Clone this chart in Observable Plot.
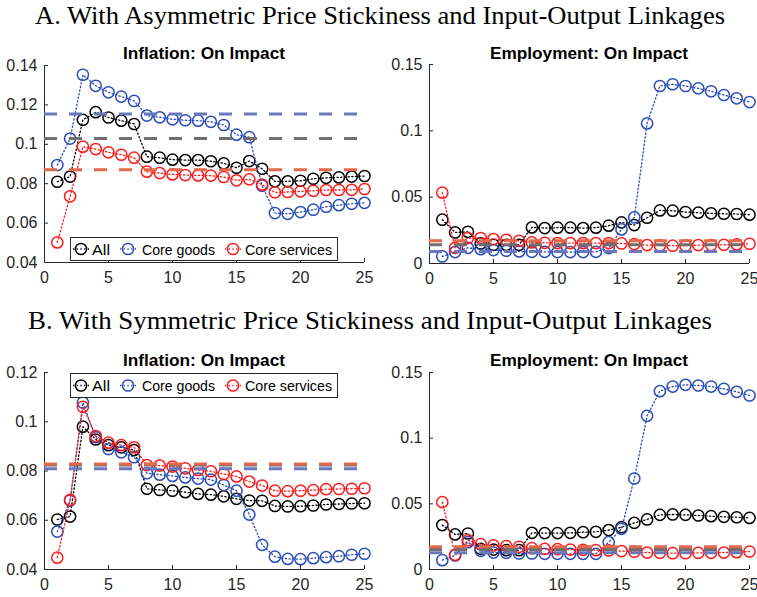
<!DOCTYPE html>
<html><head><meta charset="utf-8">
<script src="https://cdn.jsdelivr.net/npm/d3@7"></script>
<script src="https://cdn.jsdelivr.net/npm/@observablehq/plot@0.6"></script>
<style>
body{margin:0;background:#fff;}
#root{position:relative;width:757px;height:597px;background:#fff;overflow:hidden;}
.panel{position:absolute;}
#overlay{position:absolute;left:0;top:0;}
</style></head><body><div id="root"></div>
<script>
const periods = [1,2,3,4,5,6,7,8,9,10,11,12,13,14,15,16,17,18,19,20,21,22,23,24,25];
const seriesNames = ["All", "Core goods", "Core services"];
const xTicks = [0,5,10,15,20,25];
const infATicks = [0.04,0.06,0.08,0.1,0.12,0.14];
const infBTicks = [0.04,0.06,0.08,0.1,0.12];
const empTicks = [0,0.05,0.1,0.15];

// Panel A: asymmetric stickiness
const aInfAll   = [0.0810,0.0836,0.1124,0.1163,0.1136,0.1120,0.1103,0.0937,0.0932,0.0922,0.0920,0.0920,0.0914,0.0903,0.0881,0.0915,0.0876,0.0812,0.0812,0.0815,0.0825,0.0830,0.0832,0.0836,0.0839];
const aInfGoods = [0.0895,0.1029,0.1353,0.1297,0.1264,0.1242,0.1220,0.1146,0.1137,0.1127,0.1122,0.1120,0.1114,0.1098,0.1049,0.1036,0.0790,0.0651,0.0647,0.0656,0.0668,0.0683,0.0691,0.0698,0.0703];
const aInfServ  = [0.0502,0.0736,0.0988,0.0976,0.0959,0.0947,0.0932,0.0861,0.0854,0.0847,0.0844,0.0842,0.0841,0.0834,0.0817,0.0822,0.0795,0.0756,0.0758,0.0761,0.0764,0.0768,0.0768,0.0769,0.0773];
const aInfMeans = [0.1030,0.1154,0.0871];

const aEmpAll   = [0.0330,0.0234,0.0239,0.0151,0.0141,0.0141,0.0141,0.0272,0.0267,0.0270,0.0270,0.0267,0.0270,0.0285,0.0310,0.0290,0.0345,0.0400,0.0398,0.0388,0.0383,0.0378,0.0375,0.0373,0.0368];
const aEmpGoods = [0.0053,0.0086,0.0118,0.0108,0.0101,0.0096,0.0091,0.0088,0.0088,0.0086,0.0086,0.0086,0.0088,0.0116,0.0257,0.0348,0.1056,0.1338,0.1351,0.1338,0.1320,0.1298,0.1270,0.1245,0.1217];
const aEmpServ  = [0.0534,0.0118,0.0192,0.0192,0.0184,0.0179,0.0171,0.0159,0.0156,0.0154,0.0154,0.0154,0.0154,0.0154,0.0151,0.0146,0.0139,0.0136,0.0134,0.0134,0.0139,0.0139,0.0141,0.0144,0.0149];
const aEmpMeans = [0.0141,0.0091,0.0171];

// Panel B: symmetric stickiness
const bInfAll   = [0.0603,0.0615,0.0980,0.0928,0.0905,0.0896,0.0885,0.0728,0.0723,0.0720,0.0714,0.0707,0.0704,0.0697,0.0687,0.0680,0.0679,0.0658,0.0656,0.0657,0.0660,0.0664,0.0666,0.0668,0.0669];
const bInfGoods = [0.0554,0.0680,0.1078,0.0937,0.0889,0.0876,0.0856,0.0791,0.0785,0.0780,0.0774,0.0769,0.0765,0.0743,0.0720,0.0623,0.0500,0.0452,0.0443,0.0442,0.0446,0.0450,0.0454,0.0460,0.0464];
const bInfServ  = [0.0448,0.0683,0.1061,0.0942,0.0915,0.0905,0.0896,0.0824,0.0822,0.0818,0.0811,0.0804,0.0799,0.0788,0.0778,0.0757,0.0741,0.0720,0.0718,0.0720,0.0722,0.0726,0.0727,0.0728,0.0730];
const bInfMeans = [0.0824,0.0809,0.0828];

const bEmpAll   = [0.0338,0.0267,0.0274,0.0157,0.0152,0.0147,0.0147,0.0279,0.0277,0.0277,0.0279,0.0284,0.0287,0.0300,0.0322,0.0355,0.0381,0.0416,0.0419,0.0416,0.0411,0.0406,0.0401,0.0398,0.0393];
const bEmpGoods = [0.0071,0.0107,0.0208,0.0142,0.0129,0.0127,0.0122,0.0122,0.0119,0.0119,0.0119,0.0119,0.0119,0.0208,0.0310,0.0693,0.1170,0.1358,0.1393,0.1406,0.1401,0.1393,0.1376,0.1353,0.1325];
const bEmpServ  = [0.0513,0.0112,0.0223,0.0193,0.0183,0.0178,0.0173,0.0162,0.0157,0.0155,0.0152,0.0150,0.0147,0.0145,0.0140,0.0135,0.0129,0.0127,0.0124,0.0124,0.0127,0.0127,0.0129,0.0132,0.0137];
const bEmpMeans = [0.0152,0.0127,0.0173];

const lineColors = ["#000000", "#2a4db8", "#ff1a1a"];
const meanColors = ["#6f6f6f", "#6a78bb", "#e3684c"];
const axisColor = "#262626";

function makePanel({left, top, width, height, mt, mb, ml, mr, yDomain, yTicks, series, means}) {
  const rows = [];
  series.forEach((vals, s) => vals.forEach((v, i) => rows.push({t: periods[i], v, s: seriesNames[s]})));
  const meanRows = means.map((m, s) => ({m, s: seriesNames[s]}));
  const colorOf = name => lineColors[seriesNames.indexOf(name)];
  const meanColorOf = name => meanColors[seriesNames.indexOf(name)];
  const marks = [
    Plot.ruleX([0], {stroke: axisColor, strokeWidth: 1}),
    Plot.ruleY([yDomain[0]], {stroke: axisColor, strokeWidth: 1}),
    Plot.axisX({ticks: xTicks, label: null, tickSize: -4, tickPadding: 13, stroke: axisColor, fill: axisColor, tickFormat: d => String(d)}),
    Plot.axisY({ticks: yTicks, label: null, tickSize: -4, tickPadding: 11, stroke: axisColor, fill: axisColor, tickFormat: d3.format("~g")})
  ];
  seriesNames.forEach(name => {
    const d = rows.filter(r => r.s === name);
    marks.push(Plot.line(d, {x: "t", y: "v", stroke: colorOf(name), strokeWidth: 1.3, strokeDasharray: "1.3,2.4"}));
    marks.push(Plot.dot(d, {x: "t", y: "v", r: 5.6, stroke: colorOf(name), fill: "none", strokeWidth: 1.5}));
  });
  meanRows.forEach(mr => {
    marks.push(Plot.ruleY([mr.m], {stroke: meanColorOf(mr.s), strokeWidth: 3, strokeDasharray: "13,12"}));
  });
  const chart = Plot.plot({
    width, height, marginTop: mt, marginBottom: mb, marginLeft: ml, marginRight: mr,
    x: {domain: [0, 25]},
    y: {domain: yDomain},
    style: {fontFamily: "'Liberation Sans', Arial, sans-serif", fontSize: "16px", color: axisColor, background: "transparent", overflow: "visible"},
    marks
  });
  chart.classList.add("panel");
  chart.style.left = left + "px";
  chart.style.top = top + "px";
  document.getElementById("root").appendChild(chart);
}

makePanel({left: 0, top: 40, width: 378, height: 250, mt: 25, mb: 28, ml: 44, mr: 14,
  yDomain: [0.04, 0.14], yTicks: infATicks, series: [aInfAll, aInfGoods, aInfServ], means: aInfMeans});
makePanel({left: 379, top: 40, width: 378, height: 250, mt: 24, mb: 27, ml: 50, mr: 8,
  yDomain: [0, 0.15], yTicks: empTicks, series: [aEmpAll, aEmpGoods, aEmpServ], means: aEmpMeans});
makePanel({left: 0, top: 345, width: 378, height: 250, mt: 27, mb: 26, ml: 44, mr: 14,
  yDomain: [0.04, 0.12], yTicks: infBTicks, series: [bInfAll, bInfGoods, bInfServ], means: bInfMeans});
makePanel({left: 379, top: 345, width: 378, height: 250, mt: 27, mb: 26, ml: 50, mr: 8,
  yDomain: [0, 0.15], yTicks: empTicks, series: [bEmpAll, bEmpGoods, bEmpServ], means: bEmpMeans});

// Overlay: titles and legends
const ns = "http://www.w3.org/2000/svg";
const ov = d3.select("#root").append("svg").attr("id", "overlay").attr("width", 757).attr("height", 597).attr("xmlns", ns);
const titles = [
  {text: "A. With Asymmetric Price Stickiness and Input-Output Linkages", x: 35, y: 24, len: 690},
  {text: "B. With Symmetric Price Stickiness and Input-Output Linkages", x: 28, y: 329, len: 684}
];
titles.forEach(t => ov.append("text").attr("x", t.x).attr("y", t.y).attr("textLength", t.len).attr("lengthAdjust", "spacingAndGlyphs")
  .attr("font-family", "'Liberation Serif', 'DejaVu Serif', serif").attr("font-size", 26).attr("fill", "#000").text(t.text));
const panelTitles = [
  {text: "Inflation: On Impact", x: 123, y: 59, len: 162},
  {text: "Employment: On Impact", x: 490, y: 59, len: 198},
  {text: "Inflation: On Impact", x: 123, y: 366, len: 162},
  {text: "Employment: On Impact", x: 490, y: 366, len: 198}
];
panelTitles.forEach(t => ov.append("text").attr("x", t.x).attr("y", t.y).attr("textLength", t.len).attr("lengthAdjust", "spacingAndGlyphs")
  .attr("font-family", "'Liberation Sans', Arial, sans-serif").attr("font-weight", "bold").attr("font-size", 16).attr("fill", "#000").text(t.text));

function legend(y0, h) {
  const g = ov.append("g");
  g.append("rect").attr("x", 70.5).attr("y", y0 + 0.5).attr("width", 267).attr("height", h).attr("fill", "#fff").attr("stroke", axisColor).attr("stroke-width", 1);
  const cy = y0 + h / 2 + 0.5;
  const items = [{cx: 81, tx: 92, len: 18}, {cx: 128, tx: 142, len: 73}, {cx: 233, tx: 245, len: 87}];
  items.forEach((it, i) => {
    g.append("line").attr("x1", it.cx - 8).attr("x2", it.cx + 8).attr("y1", cy).attr("y2", cy)
      .attr("stroke", lineColors[i]).attr("stroke-width", 1.3).attr("stroke-dasharray", "1.3,2.4");
    g.append("circle").attr("cx", it.cx).attr("cy", cy).attr("r", 5.6).attr("fill", "none").attr("stroke", lineColors[i]).attr("stroke-width", 1.5);
    g.append("text").attr("x", it.tx).attr("y", cy + 5.6).attr("font-family", "'Liberation Sans', Arial, sans-serif")
      .attr("font-size", 15.5).attr("textLength", it.len).attr("lengthAdjust", "spacingAndGlyphs").attr("fill", "#000").text(seriesNames[i]);
  });
}
legend(237, 23);
legend(373, 24);
</script></body></html>
